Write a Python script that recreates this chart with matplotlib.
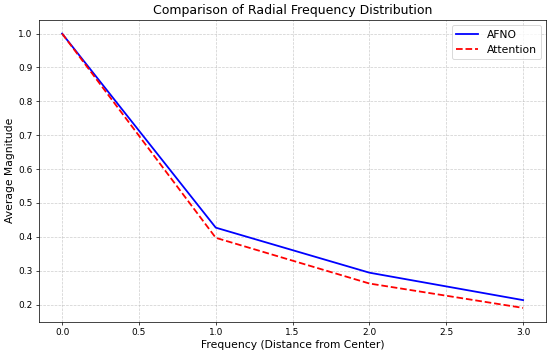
import numpy as np
import matplotlib
matplotlib.use("Agg")
import matplotlib.pyplot as plt

freq = [0, 1, 2, 3]
afno = [1.0, 0.427, 0.294, 0.213]
attention = [1.0, 0.397, 0.262, 0.190]

DPI = 64.6
fig, ax = plt.subplots(figsize=(550 / DPI, 355 / DPI), dpi=DPI)
ax.plot(freq, afno, color="blue", linewidth=2, label="AFNO")
ax.plot(freq, attention, color="red", linestyle="--", linewidth=2, label="Attention")

ax.set_title("Comparison of Radial Frequency Distribution", fontsize=14)
ax.set_xlabel("Frequency (Distance from Center)", fontsize=12)
ax.set_ylabel("Average Magnitude", fontsize=12)
ax.tick_params(labelsize=10)
ax.grid(True, linestyle="--", alpha=0.6)
ax.legend(fontsize=12)

fig.subplots_adjust(left=0.071, right=0.993, top=0.944, bottom=0.094)
fig.savefig("out.png", dpi=DPI)
